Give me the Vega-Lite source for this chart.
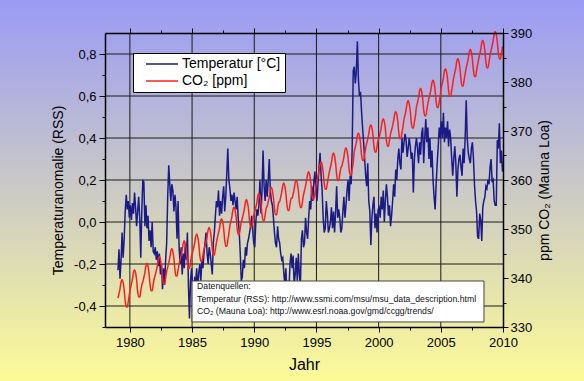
{
"$schema": "https://vega.github.io/schema/vega-lite/v6.json",
"width": 398, "height": 294,
"autosize": {"type": "none"},
"padding": {"left": 105, "top": 33, "right": 81, "bottom": 54},
"background": "#c8c8c8",
"config": {
  "view": {"stroke": null},
  "axis": {"grid": false, "domainColor": "#000", "domainWidth": 1.5, "tickColor": "#000", "tickWidth": 1, "labelFont": "Liberation Sans Narrow, Arial Narrow, Liberation Sans", "labelFontSize": 13, "labelColor": "#000", "labelFlush": false, "labelOverlap": false, "titleFont": "Liberation Sans", "titleFontSize": 14, "titleFontWeight": "normal", "titleColor": "#000"},
  "legend": {"strokeWidth": 1}
},
"data": {"values": [
{"x":1979.042,"t":-0.23,"c":335.9},{"x":1979.125,"t":-0.13,"c":336.8},{"x":1979.208,"t":-0.27,"c":337.8},{"x":1979.292,"t":-0.18,"c":339.2},{"x":1979.375,"t":-0.05,"c":339.7},{"x":1979.458,"t":-0.17,"c":339.1},{"x":1979.542,"t":-0.08,"c":337.6},{"x":1979.625,"t":0.05,"c":335.3},{"x":1979.708,"t":0.13,"c":334.1},{"x":1979.792,"t":0.06,"c":334.1},{"x":1979.875,"t":0.10,"c":335.3},{"x":1979.958,"t":0.02,"c":336.6},
{"x":1980.042,"t":0.08,"c":337.9},{"x":1980.125,"t":0.01,"c":338.8},{"x":1980.208,"t":0.09,"c":339.8},{"x":1980.292,"t":0.04,"c":341.2},{"x":1980.375,"t":0.14,"c":341.7},{"x":1980.458,"t":0.07,"c":341.1},{"x":1980.542,"t":-0.02,"c":339.6},{"x":1980.625,"t":0.05,"c":337.3},{"x":1980.708,"t":0.12,"c":336.1},{"x":1980.792,"t":0.02,"c":336.1},{"x":1980.875,"t":-0.17,"c":337.3},{"x":1980.958,"t":0.05,"c":338.6},
{"x":1981.042,"t":0.20,"c":339.2},{"x":1981.125,"t":0.19,"c":340.1},{"x":1981.208,"t":-0.02,"c":341.1},{"x":1981.292,"t":0.08,"c":342.5},{"x":1981.375,"t":-0.03,"c":343.0},{"x":1981.458,"t":0.03,"c":342.4},{"x":1981.542,"t":-0.09,"c":340.9},{"x":1981.625,"t":-0.04,"c":338.6},{"x":1981.708,"t":-0.12,"c":337.4},{"x":1981.792,"t":0.00,"c":337.4},{"x":1981.875,"t":-0.14,"c":338.6},{"x":1981.958,"t":-0.15,"c":339.9},
{"x":1982.042,"t":-0.12,"c":340.6},{"x":1982.125,"t":-0.18,"c":341.5},{"x":1982.208,"t":-0.14,"c":342.5},{"x":1982.292,"t":-0.21,"c":343.9},{"x":1982.375,"t":-0.15,"c":344.4},{"x":1982.458,"t":-0.25,"c":343.8},{"x":1982.542,"t":-0.20,"c":342.3},{"x":1982.625,"t":-0.32,"c":340.0},{"x":1982.708,"t":-0.22,"c":338.8},{"x":1982.792,"t":-0.30,"c":338.8},{"x":1982.875,"t":-0.18,"c":340.0},{"x":1982.958,"t":-0.10,"c":341.3},
{"x":1983.042,"t":0.12,"c":342.2},{"x":1983.125,"t":0.27,"c":343.1},{"x":1983.208,"t":0.18,"c":344.1},{"x":1983.292,"t":0.10,"c":345.5},{"x":1983.375,"t":0.18,"c":346.0},{"x":1983.458,"t":0.15,"c":345.4},{"x":1983.542,"t":0.05,"c":343.9},{"x":1983.625,"t":0.13,"c":341.6},{"x":1983.708,"t":0.07,"c":340.4},{"x":1983.792,"t":-0.08,"c":340.4},{"x":1983.875,"t":0.10,"c":341.6},{"x":1983.958,"t":-0.12,"c":342.9},
{"x":1984.042,"t":-0.20,"c":343.8},{"x":1984.125,"t":-0.12,"c":344.7},{"x":1984.208,"t":-0.25,"c":345.7},{"x":1984.292,"t":-0.15,"c":347.1},{"x":1984.375,"t":-0.22,"c":347.6},{"x":1984.458,"t":-0.10,"c":347.0},{"x":1984.542,"t":-0.18,"c":345.5},{"x":1984.625,"t":-0.05,"c":343.2},{"x":1984.708,"t":-0.30,"c":342.0},{"x":1984.792,"t":-0.46,"c":342.0},{"x":1984.875,"t":-0.28,"c":343.2},{"x":1984.958,"t":-0.22,"c":344.5},
{"x":1985.042,"t":-0.30,"c":345.2},{"x":1985.125,"t":-0.35,"c":346.1},{"x":1985.208,"t":-0.27,"c":347.1},{"x":1985.292,"t":-0.28,"c":348.5},{"x":1985.375,"t":-0.22,"c":349.0},{"x":1985.458,"t":-0.33,"c":348.4},{"x":1985.542,"t":-0.24,"c":346.9},{"x":1985.625,"t":-0.20,"c":344.6},{"x":1985.708,"t":-0.28,"c":343.4},{"x":1985.792,"t":-0.18,"c":343.4},{"x":1985.875,"t":-0.22,"c":344.6},{"x":1985.958,"t":-0.15,"c":345.9},
{"x":1986.042,"t":-0.10,"c":346.5},{"x":1986.125,"t":-0.05,"c":347.4},{"x":1986.208,"t":-0.15,"c":348.4},{"x":1986.292,"t":-0.20,"c":349.8},{"x":1986.375,"t":-0.12,"c":350.3},{"x":1986.458,"t":-0.15,"c":349.7},{"x":1986.542,"t":-0.20,"c":348.2},{"x":1986.625,"t":-0.25,"c":345.9},{"x":1986.708,"t":-0.10,"c":344.7},{"x":1986.792,"t":-0.05,"c":344.7},{"x":1986.875,"t":0.03,"c":345.9},{"x":1986.958,"t":0.10,"c":347.2},
{"x":1987.042,"t":0.07,"c":348.3},{"x":1987.125,"t":0.15,"c":349.2},{"x":1987.208,"t":0.03,"c":350.2},{"x":1987.292,"t":0.10,"c":351.6},{"x":1987.375,"t":0.04,"c":352.1},{"x":1987.458,"t":0.12,"c":351.5},{"x":1987.542,"t":0.17,"c":350.0},{"x":1987.625,"t":0.05,"c":347.7},{"x":1987.708,"t":0.12,"c":346.5},{"x":1987.792,"t":0.23,"c":346.5},{"x":1987.875,"t":0.35,"c":347.7},{"x":1987.958,"t":0.20,"c":349.0},
{"x":1988.042,"t":0.16,"c":350.7},{"x":1988.125,"t":0.10,"c":351.6},{"x":1988.208,"t":0.13,"c":352.6},{"x":1988.292,"t":0.08,"c":354.0},{"x":1988.375,"t":0.14,"c":354.5},{"x":1988.458,"t":0.10,"c":353.9},{"x":1988.542,"t":0.06,"c":352.4},{"x":1988.625,"t":0.12,"c":350.1},{"x":1988.708,"t":0.02,"c":348.9},{"x":1988.792,"t":-0.05,"c":348.9},{"x":1988.875,"t":-0.15,"c":350.1},{"x":1988.958,"t":-0.28,"c":351.4},
{"x":1989.042,"t":-0.26,"c":352.2},{"x":1989.125,"t":-0.18,"c":353.1},{"x":1989.208,"t":-0.22,"c":354.1},{"x":1989.292,"t":-0.12,"c":355.5},{"x":1989.375,"t":-0.16,"c":356.0},{"x":1989.458,"t":-0.10,"c":355.4},{"x":1989.542,"t":-0.08,"c":353.9},{"x":1989.625,"t":-0.05,"c":351.6},{"x":1989.708,"t":-0.02,"c":350.4},{"x":1989.792,"t":0.03,"c":350.4},{"x":1989.875,"t":-0.04,"c":351.6},{"x":1989.958,"t":-0.10,"c":352.9},
{"x":1990.042,"t":-0.12,"c":353.5},{"x":1990.125,"t":0.00,"c":354.4},{"x":1990.208,"t":0.06,"c":355.4},{"x":1990.292,"t":0.03,"c":356.8},{"x":1990.375,"t":0.08,"c":357.3},{"x":1990.458,"t":0.20,"c":356.7},{"x":1990.542,"t":0.04,"c":355.2},{"x":1990.625,"t":0.15,"c":352.9},{"x":1990.708,"t":0.34,"c":351.7},{"x":1990.792,"t":0.17,"c":351.7},{"x":1990.875,"t":0.10,"c":352.9},{"x":1990.958,"t":0.20,"c":354.2},
{"x":1991.042,"t":0.12,"c":354.7},{"x":1991.125,"t":0.20,"c":355.6},{"x":1991.208,"t":0.30,"c":356.6},{"x":1991.292,"t":0.15,"c":358.0},{"x":1991.375,"t":0.10,"c":358.5},{"x":1991.458,"t":0.08,"c":357.9},{"x":1991.542,"t":0.02,"c":356.4},{"x":1991.625,"t":-0.05,"c":354.1},{"x":1991.708,"t":-0.10,"c":352.9},{"x":1991.792,"t":-0.12,"c":352.9},{"x":1991.875,"t":-0.02,"c":354.1},{"x":1991.958,"t":-0.08,"c":355.4},
{"x":1992.042,"t":-0.10,"c":355.6},{"x":1992.125,"t":-0.15,"c":356.5},{"x":1992.208,"t":-0.18,"c":357.5},{"x":1992.292,"t":-0.17,"c":358.9},{"x":1992.375,"t":-0.24,"c":359.4},{"x":1992.458,"t":-0.30,"c":358.8},{"x":1992.542,"t":-0.22,"c":357.3},{"x":1992.625,"t":-0.35,"c":355.0},{"x":1992.708,"t":-0.28,"c":353.8},{"x":1992.792,"t":-0.32,"c":353.8},{"x":1992.875,"t":-0.20,"c":355.0},{"x":1992.958,"t":-0.15,"c":356.3},
{"x":1993.042,"t":-0.22,"c":356.2},{"x":1993.125,"t":-0.16,"c":357.1},{"x":1993.208,"t":-0.30,"c":358.1},{"x":1993.292,"t":-0.25,"c":359.5},{"x":1993.375,"t":-0.17,"c":360.0},{"x":1993.458,"t":-0.28,"c":359.4},{"x":1993.542,"t":-0.15,"c":357.9},{"x":1993.625,"t":-0.25,"c":355.6},{"x":1993.708,"t":-0.31,"c":354.4},{"x":1993.792,"t":-0.08,"c":354.4},{"x":1993.875,"t":-0.04,"c":355.6},{"x":1993.958,"t":-0.12,"c":356.9},
{"x":1994.042,"t":-0.10,"c":357.9},{"x":1994.125,"t":0.02,"c":358.8},{"x":1994.208,"t":-0.05,"c":359.8},{"x":1994.292,"t":-0.08,"c":361.2},{"x":1994.375,"t":0.02,"c":361.7},{"x":1994.458,"t":0.10,"c":361.1},{"x":1994.542,"t":0.06,"c":359.6},{"x":1994.625,"t":0.17,"c":357.3},{"x":1994.708,"t":0.10,"c":356.1},{"x":1994.792,"t":0.19,"c":356.1},{"x":1994.875,"t":0.24,"c":357.3},{"x":1994.958,"t":0.15,"c":358.6},
{"x":1995.042,"t":0.10,"c":359.9},{"x":1995.125,"t":0.18,"c":360.8},{"x":1995.208,"t":0.26,"c":361.8},{"x":1995.292,"t":0.33,"c":363.2},{"x":1995.375,"t":0.22,"c":363.7},{"x":1995.458,"t":0.15,"c":363.1},{"x":1995.542,"t":0.02,"c":361.6},{"x":1995.625,"t":-0.05,"c":359.3},{"x":1995.708,"t":-0.03,"c":358.1},{"x":1995.792,"t":0.10,"c":358.1},{"x":1995.875,"t":0.04,"c":359.3},{"x":1995.958,"t":-0.05,"c":360.6},
{"x":1996.042,"t":-0.03,"c":361.7},{"x":1996.125,"t":0.00,"c":362.6},{"x":1996.208,"t":0.07,"c":363.6},{"x":1996.292,"t":-0.03,"c":365.0},{"x":1996.375,"t":0.05,"c":365.5},{"x":1996.458,"t":-0.05,"c":364.9},{"x":1996.542,"t":0.05,"c":363.4},{"x":1996.625,"t":0.17,"c":361.1},{"x":1996.708,"t":0.02,"c":359.9},{"x":1996.792,"t":0.06,"c":359.9},{"x":1996.875,"t":0.02,"c":361.1},{"x":1996.958,"t":-0.05,"c":362.4},
{"x":1997.042,"t":-0.03,"c":362.8},{"x":1997.125,"t":0.05,"c":363.7},{"x":1997.208,"t":0.12,"c":364.7},{"x":1997.292,"t":0.02,"c":366.1},{"x":1997.375,"t":0.08,"c":366.6},{"x":1997.458,"t":0.15,"c":366.0},{"x":1997.542,"t":0.20,"c":364.5},{"x":1997.625,"t":0.10,"c":362.2},{"x":1997.708,"t":0.22,"c":361.0},{"x":1997.792,"t":0.18,"c":361.0},{"x":1997.875,"t":0.35,"c":362.2},{"x":1997.958,"t":0.72,"c":363.5},
{"x":1998.042,"t":0.74,"c":365.8},{"x":1998.125,"t":0.66,"c":366.7},{"x":1998.208,"t":0.72,"c":367.7},{"x":1998.292,"t":0.86,"c":369.1},{"x":1998.375,"t":0.68,"c":369.6},{"x":1998.458,"t":0.60,"c":369.0},{"x":1998.542,"t":0.62,"c":367.5},{"x":1998.625,"t":0.53,"c":365.2},{"x":1998.708,"t":0.45,"c":364.0},{"x":1998.792,"t":0.38,"c":364.0},{"x":1998.875,"t":0.30,"c":365.2},{"x":1998.958,"t":0.22,"c":366.5},
{"x":1999.042,"t":0.17,"c":367.5},{"x":1999.125,"t":0.28,"c":368.4},{"x":1999.208,"t":0.10,"c":369.4},{"x":1999.292,"t":0.05,"c":370.8},{"x":1999.375,"t":-0.11,"c":371.3},{"x":1999.458,"t":0.02,"c":370.7},{"x":1999.542,"t":0.08,"c":369.2},{"x":1999.625,"t":0.12,"c":366.9},{"x":1999.708,"t":-0.03,"c":365.7},{"x":1999.792,"t":0.04,"c":365.7},{"x":1999.875,"t":-0.05,"c":366.9},{"x":1999.958,"t":0.06,"c":368.2},
{"x":2000.042,"t":0.07,"c":368.7},{"x":2000.125,"t":0.02,"c":369.6},{"x":2000.208,"t":0.12,"c":370.6},{"x":2000.292,"t":0.06,"c":372.0},{"x":2000.375,"t":0.15,"c":372.5},{"x":2000.458,"t":0.00,"c":371.9},{"x":2000.542,"t":0.10,"c":370.4},{"x":2000.625,"t":0.18,"c":368.1},{"x":2000.708,"t":0.12,"c":366.9},{"x":2000.792,"t":0.03,"c":366.9},{"x":2000.875,"t":0.08,"c":368.1},{"x":2000.958,"t":-0.02,"c":369.4},
{"x":2001.042,"t":0.03,"c":370.2},{"x":2001.125,"t":0.10,"c":371.1},{"x":2001.208,"t":0.18,"c":372.1},{"x":2001.292,"t":0.12,"c":373.5},{"x":2001.375,"t":0.25,"c":374.0},{"x":2001.458,"t":0.20,"c":373.4},{"x":2001.542,"t":0.30,"c":371.9},{"x":2001.625,"t":0.35,"c":369.6},{"x":2001.708,"t":0.28,"c":368.4},{"x":2001.792,"t":0.25,"c":368.4},{"x":2001.875,"t":0.40,"c":369.6},{"x":2001.958,"t":0.33,"c":370.9},
{"x":2002.042,"t":0.38,"c":372.4},{"x":2002.125,"t":0.42,"c":373.3},{"x":2002.208,"t":0.39,"c":374.3},{"x":2002.292,"t":0.31,"c":375.7},{"x":2002.375,"t":0.35,"c":376.2},{"x":2002.458,"t":0.40,"c":375.6},{"x":2002.542,"t":0.36,"c":374.1},{"x":2002.625,"t":0.30,"c":371.8},{"x":2002.708,"t":0.33,"c":370.6},{"x":2002.792,"t":0.14,"c":370.6},{"x":2002.875,"t":0.30,"c":371.8},{"x":2002.958,"t":0.36,"c":373.1},
{"x":2003.042,"t":0.40,"c":374.9},{"x":2003.125,"t":0.35,"c":375.8},{"x":2003.208,"t":0.28,"c":376.8},{"x":2003.292,"t":0.38,"c":378.2},{"x":2003.375,"t":0.32,"c":378.7},{"x":2003.458,"t":0.42,"c":378.1},{"x":2003.542,"t":0.45,"c":376.6},{"x":2003.625,"t":0.28,"c":374.3},{"x":2003.708,"t":0.40,"c":373.1},{"x":2003.792,"t":0.49,"c":373.1},{"x":2003.875,"t":0.38,"c":374.3},{"x":2003.958,"t":0.45,"c":375.6},
{"x":2004.042,"t":0.30,"c":376.6},{"x":2004.125,"t":0.40,"c":377.5},{"x":2004.208,"t":0.26,"c":378.5},{"x":2004.292,"t":0.34,"c":379.9},{"x":2004.375,"t":0.20,"c":380.4},{"x":2004.458,"t":0.12,"c":379.8},{"x":2004.542,"t":0.06,"c":378.3},{"x":2004.625,"t":0.18,"c":376.0},{"x":2004.708,"t":0.28,"c":374.8},{"x":2004.792,"t":0.36,"c":374.8},{"x":2004.875,"t":0.45,"c":376.0},{"x":2004.958,"t":0.40,"c":377.3},
{"x":2005.042,"t":0.48,"c":378.9},{"x":2005.125,"t":0.40,"c":379.8},{"x":2005.208,"t":0.52,"c":380.8},{"x":2005.292,"t":0.38,"c":382.2},{"x":2005.375,"t":0.45,"c":382.7},{"x":2005.458,"t":0.40,"c":382.1},{"x":2005.542,"t":0.48,"c":380.6},{"x":2005.625,"t":0.36,"c":378.3},{"x":2005.708,"t":0.44,"c":377.1},{"x":2005.792,"t":0.40,"c":377.1},{"x":2005.875,"t":0.30,"c":378.3},{"x":2005.958,"t":0.22,"c":379.6},
{"x":2006.042,"t":0.30,"c":381.0},{"x":2006.125,"t":0.36,"c":381.9},{"x":2006.208,"t":0.28,"c":382.9},{"x":2006.292,"t":0.12,"c":384.3},{"x":2006.375,"t":0.25,"c":384.8},{"x":2006.458,"t":0.30,"c":384.2},{"x":2006.542,"t":0.32,"c":382.7},{"x":2006.625,"t":0.26,"c":380.4},{"x":2006.708,"t":0.22,"c":379.2},{"x":2006.792,"t":0.35,"c":379.2},{"x":2006.875,"t":0.28,"c":380.4},{"x":2006.958,"t":0.40,"c":381.7},
{"x":2007.042,"t":0.58,"c":382.9},{"x":2007.125,"t":0.40,"c":383.8},{"x":2007.208,"t":0.33,"c":384.8},{"x":2007.292,"t":0.30,"c":386.2},{"x":2007.375,"t":0.28,"c":386.7},{"x":2007.458,"t":0.35,"c":386.1},{"x":2007.542,"t":0.38,"c":384.6},{"x":2007.625,"t":0.30,"c":382.3},{"x":2007.708,"t":0.18,"c":381.1},{"x":2007.792,"t":0.10,"c":381.1},{"x":2007.875,"t":0.05,"c":382.3},{"x":2007.958,"t":-0.07,"c":383.6},
{"x":2008.042,"t":-0.08,"c":384.7},{"x":2008.125,"t":0.04,"c":385.6},{"x":2008.208,"t":0.01,"c":386.6},{"x":2008.292,"t":-0.09,"c":388.0},{"x":2008.375,"t":0.07,"c":388.5},{"x":2008.458,"t":0.10,"c":387.9},{"x":2008.542,"t":0.12,"c":386.4},{"x":2008.625,"t":0.17,"c":384.1},{"x":2008.708,"t":0.16,"c":382.9},{"x":2008.792,"t":0.20,"c":382.9},{"x":2008.875,"t":0.18,"c":384.1},{"x":2008.958,"t":0.26,"c":385.4},
{"x":2009.042,"t":0.30,"c":386.5},{"x":2009.125,"t":0.19,"c":387.4},{"x":2009.208,"t":0.20,"c":388.4},{"x":2009.292,"t":0.10,"c":389.8},{"x":2009.375,"t":0.08,"c":390.3},{"x":2009.458,"t":0.08,"c":389.7},{"x":2009.542,"t":0.39,"c":388.2},{"x":2009.625,"t":0.35,"c":385.9},{"x":2009.708,"t":0.47,"c":384.7},{"x":2009.792,"t":0.28,"c":384.7},{"x":2009.875,"t":0.34,"c":385.9},{"x":2009.958,"t":0.24,"c":387.2}
]},
"resolve": {"scale": {"y": "independent"}, "axis": {"x": "independent", "y": "independent"}},
"layer": [
  {
    "data": {"values": [{}]},
    "mark": {"type": "rect", "strokeWidth": 0, "fill": {"gradient": "linear", "x1": 0, "y1": 0, "x2": 0, "y2": 1, "stops": [{"offset": 0.063, "color": "#9a9af5"}, {"offset": 0.988, "color": "#fcfa96"}]}},
    "encoding": {
      "x": {"datum": 1960, "type": "quantitative", "scale": {"domain": [1978, 2010], "nice": false, "zero": false}, "axis": null},
      "x2": {"datum": 2030},
      "y": {"datum": -0.2, "type": "quantitative", "scale": {"domain": [0, 1], "nice": false, "zero": false}, "axis": null},
      "y2": {"datum": 1.2}
    }
  },
  {
    "data": {"values": [{"g": -0.4}, {"g": -0.2}, {"g": 0}, {"g": 0.2}, {"g": 0.4}, {"g": 0.6}, {"g": 0.8}]},
    "mark": {"type": "rule", "color": "#1a1a1a", "strokeWidth": 1},
    "encoding": {
      "y": {"field": "g", "type": "quantitative", "scale": {"domain": [-0.5, 0.9], "nice": false, "zero": false},
            "axis": {"orient": "left", "zindex": 1, "values": [-0.5, -0.3, -0.1, 0.1, 0.3, 0.5, 0.7], "labels": false, "domain": false, "tickSize": 3, "title": null}}
    }
  },
  {
    "data": {"values": [{"g": 1980}, {"g": 1985}, {"g": 1990}, {"g": 1995}, {"g": 2000}, {"g": 2005}]},
    "mark": {"type": "rule", "color": "#1a1a1a", "strokeWidth": 1},
    "encoding": {
      "x": {"field": "g", "type": "quantitative", "scale": {"domain": [1978, 2010], "nice": false, "zero": false},
            "axis": {"orient": "bottom", "zindex": 1, "values": [1982.5, 1987.5, 1992.5, 1997.5, 2002.5, 2007.5], "labels": false, "domain": false, "tickSize": 3, "title": null}}
    }
  },
  {
    "mark": {"type": "line", "strokeWidth": 1.5},
    "encoding": {
      "x": {"field": "x", "type": "quantitative", "scale": {"domain": [1978, 2010], "nice": false, "zero": false},
            "axis": {"orient": "bottom", "zindex": 1, "values": [1980, 1985, 1990, 1995, 2000, 2005, 2010], "format": "d", "tickSize": 5, "labelPadding": 4, "title": "Jahr", "titleFont": "Liberation Sans Narrow, Arial Narrow, Liberation Sans", "titleFontSize": 16, "titlePadding": 7}},
      "y": {"field": "t", "type": "quantitative", "scale": {"domain": [-0.5, 0.9], "nice": false, "zero": false},
            "axis": {"orient": "left", "zindex": 1, "values": [-0.4, -0.2, 0, 0.2, 0.4, 0.6, 0.8], "labelExpr": "replace(replace(format(datum.value, '.1f'), '.', ','), '\u2212', '-')", "tickSize": 6, "labelPadding": 3, "title": "Temperaturanomalie (RSS)", "titlePadding": 8, "titleY": 157}},
      "color": {"datum": "Temperatur [°C]", "type": "nominal",
                "scale": {"domain": ["Temperatur [°C]", "CO₂ [ppm]"], "range": ["#1a1a88", "#ff1c1c"]},
                "legend": {"orient": "none", "legendX": 28, "legendY": 20, "title": null, "symbolType": "M-3.2,0H3.2", "symbolSize": 100, "symbolStrokeWidth": 1.5, "symbolOffset": 18, "labelOffset": 13, "labelFontSize": 14, "labelFont": "Liberation Sans", "labelColor": "#000", "padding": 4, "rowPadding": 3, "fillColor": "#ffffff", "strokeColor": "#000000"}}
    }
  },
  {
    "mark": {"type": "line", "strokeWidth": 1.5, "interpolate": "monotone"},
    "encoding": {
      "x": {"field": "x", "type": "quantitative", "scale": {"domain": [1978, 2010], "nice": false, "zero": false},
            "axis": {"orient": "top", "zindex": 1, "values": [1980, 1985, 1990, 1995, 2000, 2005, 2010], "labels": false, "tickSize": 5, "title": null}},
      "y": {"field": "c", "type": "quantitative", "scale": {"domain": [330, 390], "nice": false, "zero": false},
            "axis": {"orient": "right", "zindex": 1, "values": [330, 340, 350, 360, 370, 380, 390], "tickSize": 5, "labelPadding": 2, "title": "ppm  CO₂ (Mauna Loa)", "titleAngle": 270, "titleBaseline": "top", "titlePadding": 6, "titleY": 157}},
      "color": {"datum": "CO₂ [ppm]", "type": "nominal",
                "scale": {"domain": ["Temperatur [°C]", "CO₂ [ppm]"], "range": ["#1a1a88", "#ff1c1c"]},
                "legend": {"orient": "none", "legendX": 28, "legendY": 20, "title": null, "symbolType": "M-3.2,0H3.2", "symbolSize": 100, "symbolStrokeWidth": 1.5, "symbolOffset": 18, "labelOffset": 13, "labelFontSize": 14, "labelFont": "Liberation Sans", "labelColor": "#000", "padding": 4, "rowPadding": 3, "fillColor": "#ffffff", "strokeColor": "#000000"}}
    }
  },
  {
    "data": {"values": [{}]},
    "mark": {"type": "rect", "fill": "#ffffff", "stroke": "#444444", "strokeWidth": 1},
    "encoding": {
      "x": {"datum": 1985, "type": "quantitative", "scale": {"domain": [1978, 2010], "nice": false, "zero": false},
            "axis": {"orient": "top", "zindex": 1, "values": [1982.5, 1987.5, 1992.5, 1997.5, 2002.5, 2007.5], "labels": false, "domain": false, "tickSize": 3, "title": null}},
      "x2": {"datum": 2008.47},
      "y": {"datum": 339.39, "type": "quantitative", "scale": {"domain": [330, 390], "nice": false, "zero": false},
            "axis": {"orient": "right", "zindex": 1, "values": [335, 345, 355, 365, 375, 385], "labels": false, "domain": false, "tickSize": 3, "title": null}},
      "y2": {"datum": 331.03}
    }
  },
  {
    "data": {"values": [{}]},
    "mark": {"type": "text", "align": "left", "baseline": "top", "font": "Liberation Sans", "fontSize": 8.7, "lineHeight": 12.5, "color": "#111111",
             "text": ["Datenquellen:", "Temperatur (RSS): http://www.ssmi.com/msu/msu_data_description.html", "CO₂ (Mauna Loa): http://www.esrl.noaa.gov/gmd/ccgg/trends/"]},
    "encoding": {
      "x": {"datum": 1985.4, "type": "quantitative", "scale": {"domain": [1978, 2010], "nice": false, "zero": false}, "axis": null},
      "y": {"datum": 339.1, "type": "quantitative", "scale": {"domain": [330, 390], "nice": false, "zero": false}, "axis": null}
    }
  }
]
}
